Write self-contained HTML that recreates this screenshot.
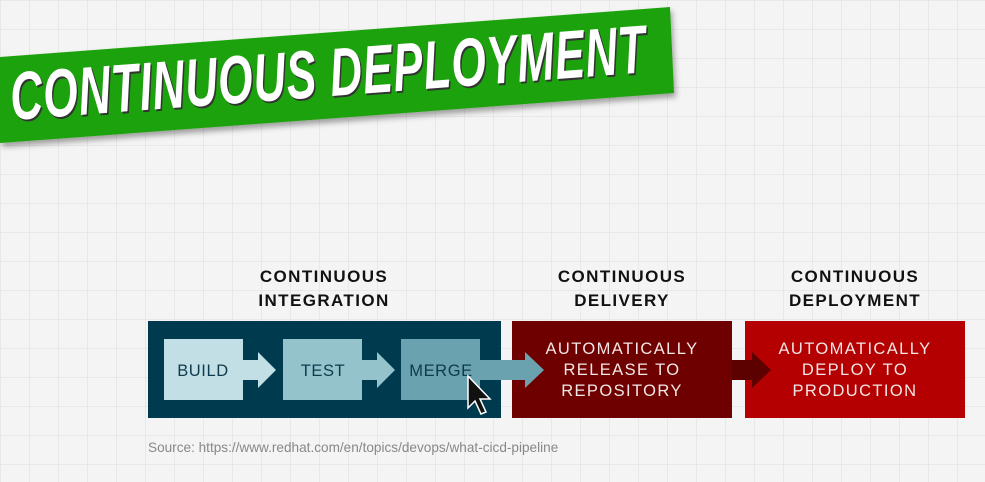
<!DOCTYPE html>
<html><head><meta charset="utf-8"><style>
html,body{margin:0;padding:0}
body{width:985px;height:482px;overflow:hidden;position:relative;
background-color:#f4f4f4;
background-image:linear-gradient(#e8e8e8 1px,transparent 1px),linear-gradient(90deg,#e8e8e8 1px,transparent 1px);
background-size:29px 29px;font-family:"Liberation Sans",sans-serif}
svg{position:absolute;left:0;top:0}
</style></head><body>
<svg width="985" height="482" viewBox="0 0 985 482">
<defs><filter id="sh" x="-5%" y="-20%" width="110%" height="150%"><feDropShadow dx="2" dy="4" stdDeviation="3" flood-color="#000" flood-opacity="0.35"/></filter></defs>
<polygon points="0,57 670,7 674,93 0,143" fill="#1fa20a" filter="url(#sh)"/>
<g transform="translate(12,120) rotate(-4.3)">
<text x="2" y="2" font-family="Liberation Sans" font-weight="bold" font-style="italic" font-size="68" fill="#333" transform="scale(0.655,1)" letter-spacing="1.2">CONTINUOUS DEPLOYMENT</text>
<text x="0" y="0" font-family="Liberation Sans" font-weight="bold" font-style="italic" font-size="68" fill="#fff" transform="scale(0.655,1)" letter-spacing="1.2">CONTINUOUS DEPLOYMENT</text>
</g>
<g font-family="Liberation Sans" font-weight="bold" font-size="17" fill="#111" text-anchor="middle" letter-spacing="1.4">
<text x="324" y="282">CONTINUOUS</text><text x="324" y="306">INTEGRATION</text>
<text x="622" y="282">CONTINUOUS</text><text x="622" y="306">DELIVERY</text>
<text x="855" y="282">CONTINUOUS</text><text x="855" y="306">DEPLOYMENT</text>
</g>
<rect x="148" y="321" width="353" height="97" fill="#003a4f"/>
<rect x="512" y="321" width="220" height="97" fill="#6e0000"/>
<rect x="745" y="321" width="220" height="97" fill="#b40000"/>
<rect x="164" y="339" width="79" height="61" fill="#c2dfe5"/>
<polygon points="243,360 258,360 258,352 276,370 258,388 258,380 243,380" fill="#c2dfe5"/>
<rect x="283" y="339" width="79" height="61" fill="#94c3cc"/>
<polygon points="362,360 377,360 377,352 395,370 377,388 377,380 362,380" fill="#94c3cc"/>
<rect x="401" y="339" width="79" height="61" fill="#6aa3af"/>
<polygon points="480,360 525,360 525,352 544,370 525,388 525,380 480,380" fill="#6aa3af"/>
<polygon points="732,360 752,360 752,352 771,370 752,388 752,380 732,380" fill="#5c0000"/>
<g font-family="Liberation Sans" font-size="16.5" text-anchor="middle" fill="#0d3a4c" letter-spacing="0.6">
<text x="203" y="376">BUILD</text><text x="323" y="376">TEST</text><text x="441" y="376">MERGE</text>
</g>
<g font-family="Liberation Sans" font-size="16.5" text-anchor="middle" fill="#f2e6e6" letter-spacing="1.4">
<text x="622" y="354">AUTOMATICALLY</text><text x="622" y="375">RELEASE TO</text><text x="622" y="396">REPOSITORY</text>
<text x="855" y="354">AUTOMATICALLY</text><text x="855" y="375">DEPLOY TO</text><text x="855" y="396">PRODUCTION</text>
</g>
<polygon points="468,376 468,408 475,401 481,414 486,412 480,399 490,399" fill="#111" stroke="#fff" stroke-width="1.5"/>
<text x="148" y="452" font-family="Liberation Sans" font-size="13.6" fill="#888">Source: https://www.redhat.com/en/topics/devops/what-cicd-pipeline</text>
</svg>
</body></html>
